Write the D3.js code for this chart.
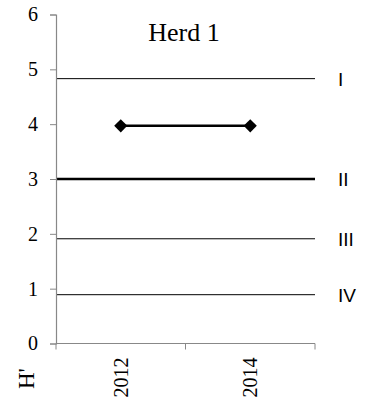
<!DOCTYPE html>
<html>
<head>
<meta charset="utf-8">
<script src="https://cdn.jsdelivr.net/npm/d3@7"></script>
<style>
  body { margin: 0; background: #fff; }
  svg { display: block; }
</style>
</head>
<body>
<svg id="chart"></svg>
<script>
// Data
const years = ["2012", "2014"];
const herdValues = [3.97, 3.97];
const levelValues = [4.83, 3.0, 1.91, 0.89];
const levelLabels = ["I", "II", "III", "IV"];
const yTicks = [0, 1, 2, 3, 4, 5, 6];

const width = 367;
const height = 405;

const svg = d3.select("#chart")
    .attr("width", width)
    .attr("height", height);

const x = d3.scaleBand()
    .domain(years)
    .range([56, 315])
    .padding(0);

const y = d3.scaleLinear()
    .domain([0, 6])
    .range([343.5, 14.5]);

const serif = "'Liberation Serif', 'Times New Roman', serif";
const sans = "'Liberation Sans', Arial, sans-serif";

// Level lines
svg.append("g")
    .selectAll("line")
    .data(levelValues)
    .join("line")
    .attr("x1", x.range()[0])
    .attr("x2", x.range()[1])
    .attr("y1", d => y(d))
    .attr("y2", d => y(d))
    .attr("stroke", "#000")
    .attr("stroke-width", (d, i) => i === 1 ? 2.5 : 1);

svg.append("g")
    .selectAll("text")
    .data(levelValues)
    .join("text")
    .attr("x", 338)
    .attr("y", d => y(d) + 7)
    .style("font-family", sans)
    .style("font-size", "19px")
    .text((d, i) => levelLabels[i]);

// Y axis
const yAxis = svg.append("g")
    .attr("transform", `translate(${x.range()[0]},0)`)
    .call(d3.axisLeft(y).tickValues(yTicks).tickSize(6).tickPadding(12).tickFormat(d3.format("d")));
yAxis.select(".domain").attr("stroke", "#888").attr("stroke-width", 1.2);
yAxis.selectAll(".tick line").attr("stroke", "#888");
yAxis.selectAll("text")
    .attr("fill", "#000")
    .style("font-family", serif)
    .style("font-size", "20px");

// X axis
const xAxis = svg.append("g")
    .attr("transform", `translate(0,${y(0)})`);
xAxis.append("line")
    .attr("x1", x.range()[0])
    .attr("x2", x.range()[1])
    .attr("stroke", "#888")
    .attr("stroke-width", 1.2);
xAxis.selectAll("line.tk")
    .data([...years.map(d => x(d)), x.range()[1]])
    .join("line")
    .attr("class", "tk")
    .attr("x1", d => d)
    .attr("x2", d => d)
    .attr("y1", 0)
    .attr("y2", 6)
    .attr("stroke", "#888");
xAxis.selectAll("text")
    .data(years)
    .join("text")
    .attr("transform", d => `translate(${x(d) + x.bandwidth() / 2 + 7},14) rotate(-90)`)
    .attr("text-anchor", "end")
    .style("font-family", serif)
    .style("font-size", "20px")
    .text(d => d);

// Herd line
const line = d3.line()
    .x((d, i) => x(years[i]) + x.bandwidth() / 2)
    .y(d => y(d));

svg.append("path")
    .datum(herdValues)
    .attr("d", line)
    .attr("fill", "none")
    .attr("stroke", "#000")
    .attr("stroke-width", 2.5);

svg.append("g")
    .selectAll("path")
    .data(herdValues)
    .join("path")
    .attr("transform", (d, i) => `translate(${x(years[i]) + x.bandwidth() / 2},${y(d)})`)
    .attr("d", d3.symbol(d3.symbolDiamond2, 110))
    .attr("fill", "#000");

// Title
svg.append("text")
    .attr("x", 184)
    .attr("y", 41)
    .attr("text-anchor", "middle")
    .style("font-family", serif)
    .style("font-size", "26px")
    .text("Herd 1");

// Y label
svg.append("text")
    .attr("transform", "translate(34,389) rotate(-90)")
    .style("font-family", serif)
    .style("font-size", "23px")
    .text("H'");
</script>
</body>
</html>
